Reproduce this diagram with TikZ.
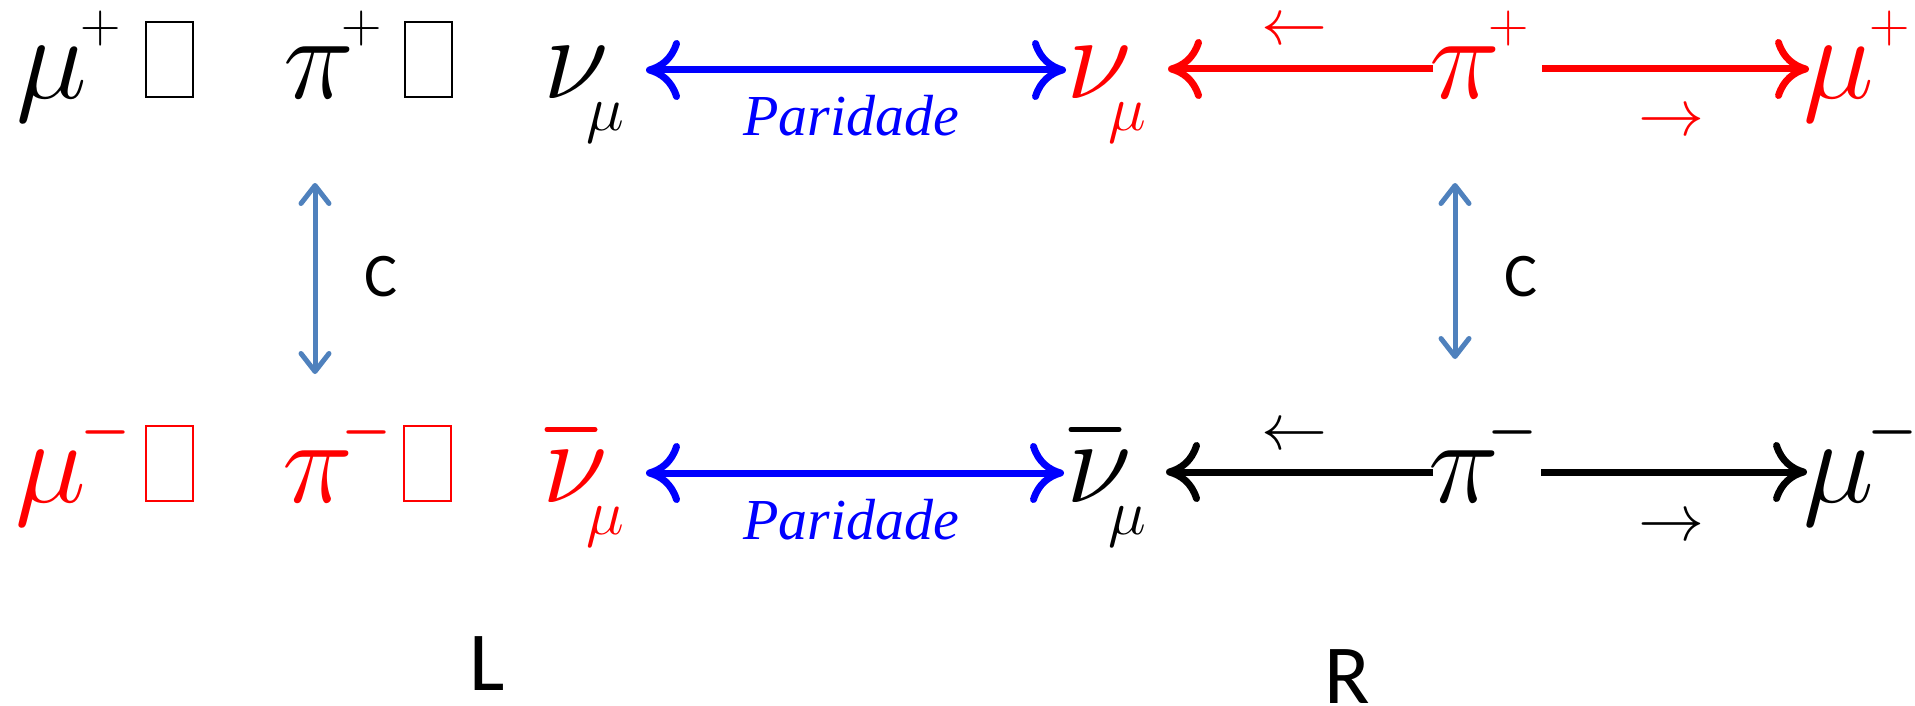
\RequirePackage{fix-cm}
\documentclass[tikz,border=0pt]{standalone}
\usepackage[no-math]{fontspec}
\setmainfont{Liberation Serif}
\newfontfamily\calib{Carlito}
\usetikzlibrary{arrows.meta}
\definecolor{cblue}{HTML}{4F81BD}
\definecolor{pred}{HTML}{FF0000}
\definecolor{pblue}{HTML}{0000FF}
\begin{document}
\begin{tikzpicture}[x=0.5pt,y=-0.5pt,
  big/.style={font=\fontsize{60}{60}\selectfont, inner sep=0, anchor=base west},
  subsc/.style={font=\fontsize{32}{32}\selectfont, inner sep=0, anchor=base west},
  sgn/.style={font=\fontsize{28}{28}\selectfont, inner sep=0, anchor=base west},
  sgnb/.style={font=\fontsize{28}{28}\selectfont\boldmath, inner sep=0, anchor=base west},
  vec/.style={font=\fontsize{33}{33}\selectfont, inner sep=0, anchor=base west},
  tofu/.style={draw, line width=1pt, inner sep=0, minimum width=23.5pt, minimum height=37.5pt, anchor=north west},
  parlbl/.style={font=\fontsize{29}{29}\selectfont\itshape, text=pblue, inner sep=0, anchor=base west},
  clbl/.style={font=\calib\fontsize{31}{31}\selectfont, inner sep=0, anchor=base west},
  hand/.style={font=\calib\fontsize{42}{42}\selectfont, inner sep=0, anchor=base west},
  bigarr/.style={line width=3.5pt, -{Computer Modern Rightarrow[length=17pt,width=30pt]}},
  dblarr/.style={line width=3.5pt, {Computer Modern Rightarrow[length=17pt,width=30pt]}-{Computer Modern Rightarrow[length=17pt,width=30pt]}},
  carr/.style={cblue, line width=2.5pt, line cap=round, {Straight Barb[length=9pt,width=14pt,round]}-{Straight Barb[length=9pt,width=14pt,round]}},
  nubar/.style={line width=2.5pt, line cap=round}
]
\useasboundingbox (0,0) rectangle (1915,706);

% ---------- top row ----------
\node[big] (muTL) at (16,98) {$\mu$};
\node[sgn] (muTLs) at (80,43) {$+$};
\node[tofu] (boxT1) at (144.5,21.5) {};
\node[big] (piTL) at (283,98) {$\pi$};
\node[sgn] (piTLs) at (341,43) {$+$};
\node[tofu] (boxT2) at (403.5,21.5) {};
\node[big] (nuTL) at (543,98) {$\nu$};
\node[subsc] (nuTLsub) at (586,130) {$\mu$};

\node[big,text=pred] (nuTR) at (1066,98) {$\nu$};
\node[subsc,text=pred] (nuTRsub) at (1108,130) {$\mu$};
\node[big,text=pred] (piTR) at (1429,98) {$\pi$};
\node[sgn,text=pred] (piTRs) at (1488,43) {$+$};
\node[big,text=pred] (muTR) at (1803,98) {$\mu$};
\node[sgn,text=pred] (muTRs) at (1869,43) {$+$};
\node[vec,text=pred] (laTR) at (1261,45) {$\leftarrow$};
\node[vec,text=pred] (raTR) at (1638,135.5) {$\rightarrow$};

\coordinate (pT1) at (646,70);
\coordinate (pT2) at (1066,70);
\draw[dblarr,pblue] (pT1) -- (pT2);
\node[parlbl] (parT) at (743,135) {Paridade};

\coordinate (rT1) at (1168,69);
\coordinate (rT2) at (1433,69);
\coordinate (rT3) at (1542,69);
\coordinate (rT4) at (1809,69);
\draw[bigarr,pred] (rT2) -- (rT1);
\draw[bigarr,pred] (rT3) -- (rT4);

% ---------- C arrows ----------
\coordinate (cL1) at (315,183);
\coordinate (cL2) at (315,374);
\draw[carr] (cL1) -- (cL2);
\node[clbl] (cLlbl) at (364,296) {C};
\coordinate (cR1) at (1455,183);
\coordinate (cR2) at (1455,359);
\draw[carr] (cR1) -- (cR2);
\node[clbl] (cRlbl) at (1504,296) {C};

% ---------- bottom row ----------
\node[big,text=pred] (muBL) at (15,502) {$\mu$};
\node[sgnb,text=pred] (muBLs) at (80,446) {$-$};
\node[tofu,draw=pred] (boxB1) at (144.5,424.5) {};
\node[big,text=pred] (piBL) at (282,502) {$\pi$};
\node[sgnb,text=pred] (piBLs) at (341,446) {$-$};
\node[tofu,draw=pred] (boxB2) at (402.5,424.5) {};
\node[big,text=pred] (nuBL) at (542,502) {$\nu$};
\draw[nubar,pred] (547,429.5) -- (595,429.5);
\node[subsc,text=pred] (nuBLsub) at (586,534) {$\mu$};

\node[big] (nuBR) at (1066,502) {$\nu$};
\draw[nubar] (1071,429.5) -- (1119,429.5);
\node[subsc] (nuBRsub) at (1108,534) {$\mu$};
\node[big] (piBR) at (1428,502) {$\pi$};
\node[sgnb] (piBRs) at (1487,446) {$-$};
\node[big] (muBR) at (1803,502) {$\mu$};
\node[sgnb] (muBRs) at (1867,446) {$-$};
\node[vec] (laBR) at (1261,449) {$\leftarrow$};
\node[vec] (raBR) at (1638,540) {$\rightarrow$};

\coordinate (pB1) at (646,473);
\coordinate (pB2) at (1064,473);
\draw[dblarr,pblue] (pB1) -- (pB2);
\node[parlbl] (parB) at (743,539) {Paridade};

\coordinate (kB1) at (1166,472);
\coordinate (kB2) at (1433,472);
\coordinate (kB3) at (1541,472);
\coordinate (kB4) at (1807,472);
\draw[bigarr] (kB2) -- (kB1);
\draw[bigarr] (kB3) -- (kB4);

% ---------- L / R ----------
\node[hand] (Llbl) at (469,690) {L};
\node[hand] (Rlbl) at (1324,703) {R};
\end{tikzpicture}
\end{document}
